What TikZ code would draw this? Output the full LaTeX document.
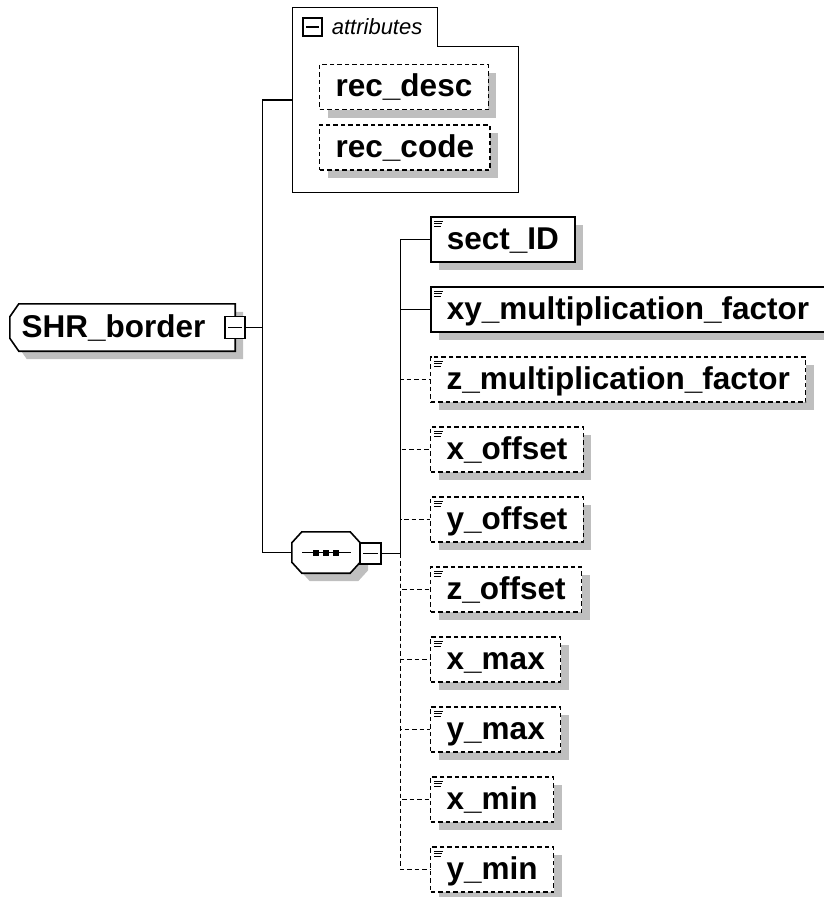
\documentclass[tikz,border=0pt]{standalone}
\usepackage{fontspec}
\setmainfont{Liberation Sans}
\usetikzlibrary{positioning, calc, shadows}

\newcommand{\elemfont}{\fontsize{31.5}{36}\selectfont\bfseries}
\newcommand{\attrfont}{\fontsize{22}{26}\selectfont\itshape}

\tikzset{
  boxshadow/.style={drop shadow={shadow xshift=8pt, shadow yshift=-8pt, opacity=1, fill=gray!50}},
  elem/.style={draw, fill=white, line width=1.6pt, font=\elemfont, anchor=west,
    minimum height=45pt, inner xsep=16pt, inner ysep=0pt, text height=24pt, text depth=5pt, boxshadow},
  optelem/.style={elem, line width=1.4pt, dash pattern=on 4.5pt off 3pt},
  frame/.style={inner sep=0pt},
  link/.style={line width=1.3pt},
  optlink/.style={line width=1.3pt, dash pattern=on 4.5pt off 3pt},
  minusbox/.style={draw, fill=white, line width=1.3pt, inner sep=0pt},
}

\begin{document}
\begin{tikzpicture}[x=1pt, y=-1pt]
  \useasboundingbox (0,0) rectangle (823,897);

  % root element
  \node[frame, minimum width=225pt, minimum height=47pt] (shr) at (122.5,327.5) {};
  \draw[line width=1.6pt, fill=white, boxshadow] ($(shr.north west)+(9,0)$) -- (shr.north east)
    -- (shr.south east) -- ($(shr.south west)+(9,0)$) -- ($(shr.south west)+(0,-13)$)
    -- ($(shr.north west)+(0,13)$) -- cycle;
  \node[font=\elemfont, inner sep=0pt] (shrlbl) at ($(shr.center)+(-9,1)$) {SHR\_border};
  \node[minusbox, minimum width=20pt, minimum height=22pt] (shrm) at (235,327.5) {};
  \draw[link] ($(shrm.west)+(4,0)$) -- ($(shrm.east)-(4,0)$);

  % attributes panel
  \node[frame, minimum width=225pt, minimum height=184pt] (attr) at (405.5,100) {};
  \draw[line width=1.3pt] (attr.south west) -- (attr.north west) -- ($(attr.north west)+(145,0)$)
    -- ($(attr.north west)+(145,39)$) -- ($(attr.north east)+(0,39)$) -- (attr.south east) -- cycle;
  \node[minusbox, minimum width=19pt, minimum height=18pt] (attrm) at (312.5,27) {};
  \draw[link] ($(attrm.west)+(4,0)$) -- ($(attrm.east)-(4,0)$);
  \node[right=9pt of attrm, inner sep=0pt, font=\attrfont] (attrlbl) {attributes};
  \node[optelem] (recdesc) at (319,87) {rec\_desc};
  \node[optelem] (reccode) at (319,147.5) {rec\_code};

  % sequence
  \node[frame, minimum width=68pt, minimum height=41pt] (seq) at (326,552.5) {};
  \draw[line width=1.6pt, fill=white, boxshadow] ($(seq.north west)+(10,0)$) -- ($(seq.north east)-(10,0)$)
    -- ($(seq.north east)+(0,11)$) -- ($(seq.south east)-(0,11)$) -- ($(seq.south east)-(10,0)$)
    -- ($(seq.south west)+(10,0)$) -- ($(seq.south west)-(0,11)$) -- ($(seq.north west)+(0,11)$) -- cycle;
  \draw[link] ($(seq.center)+(-24,0)$) -- ($(seq.center)+(25,0)$);
  \foreach \dx in {-10,0,10}
    \fill ($(seq.center)+(\dx,0)$) ++(-3,-3) rectangle ++(6,6);
  \node[minusbox, minimum size=21pt] (seqm) at (370.5,553.5) {};
  \draw[link] ($(seqm.west)+(4,0)$) -- ($(seqm.east)-(4,0)$);

  % child elements
  \node[elem] (sect) at (430,239.5) {sect\_ID};
  \node[elem] (xymul) at (430,309.5) {xy\_multiplication\_factor};
  \node[optelem] (zmul) at (430,379.5) {z\_multiplication\_factor};
  \node[optelem] (xoff) at (430,449.5) {x\_offset};
  \node[optelem] (yoff) at (430,519.5) {y\_offset};
  \node[optelem] (zoff) at (430,589.5) {z\_offset};
  \node[optelem] (xmax) at (430,659.5) {x\_max};
  \node[optelem] (ymax) at (430,729.5) {y\_max};
  \node[optelem] (xmin) at (430,799.5) {x\_min};
  \node[optelem] (ymin) at (430,869.5) {y\_min};
  \foreach \n in {sect,xymul,zmul,xoff,yoff,zoff,xmax,ymax,xmin,ymin}
    \foreach \dy/\len in {5/9,7.5/8,10/7}
      \draw[line width=1pt] ($(\n.north west)+(4,\dy)$) -- ++(\len,0);

  % connectors
  \draw[link] (shrm.east) -- ++(17,0) coordinate (j1);
  \draw[link] (attr.west) -| (j1) |- (seq.west);
  \draw[link] (seqm.east) -- ++(19,0) coordinate (j2);
  \draw[link] (j2) |- (sect.west);
  \draw[link] (j2) |- (xymul.west);
  \foreach \n in {zmul,xoff,yoff,zoff,xmax,ymax,xmin,ymin}
    \draw[optlink] (j2) |- (\n.west);
\end{tikzpicture}
\end{document}
